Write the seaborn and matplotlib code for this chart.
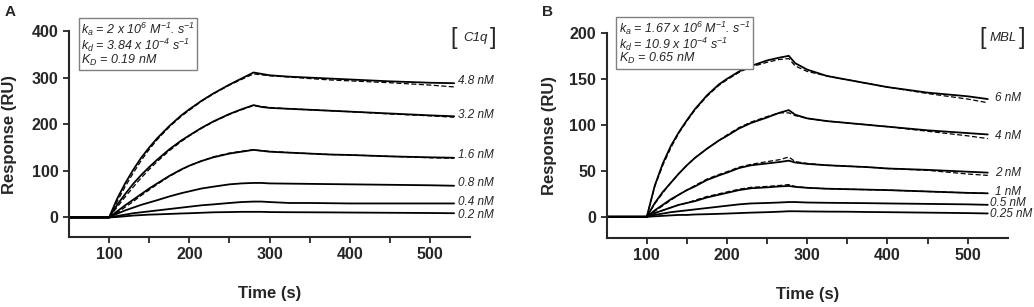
import numpy as np
import pandas as pd
import seaborn as sns
import matplotlib.pyplot as plt

sns.set_style("ticks")
plt.rcParams['font.family'] = ['Liberation Sans', 'DejaVu Sans']
plt.rcParams['mathtext.fontset'] = 'custom'
plt.rcParams['mathtext.rm'] = 'Liberation Sans:italic'
plt.rcParams['mathtext.it'] = 'Liberation Sans:italic'

# ---- panel A : C1q ----
t_a = [50, 100, 110, 120, 130, 140, 150, 160, 175, 190, 200, 215, 230, 250, 265, 280,
       290, 300, 325, 350, 375, 400, 450, 500, 530]
a_48 = [0, 0, 40, 73, 102, 128, 150, 170, 196, 219, 232, 250, 266, 285, 298, 311,
        308, 305, 302, 300, 298, 296, 292, 289, 288]
a_32 = [0, 0, 27, 50, 72, 91, 108, 124, 146, 165, 176, 192, 206, 222, 232, 241,
        237, 235, 233, 231, 229, 227, 223, 219, 217]
a_16 = [0, 0, 13, 26, 38, 50, 62, 73, 89, 103, 111, 121, 129, 137, 141, 145,
        143, 141, 139, 137, 135, 134, 131, 129, 128]
a_08 = [0, 0, 8, 15, 21, 27, 32, 37, 45, 52, 56, 62, 66, 71, 73, 74,
        74, 73, 72.5, 72, 71.5, 71, 70, 69, 68]
a_04 = [0, 0, 3, 6, 9, 11, 13, 15, 18, 21, 23, 26, 28, 31, 33, 34,
        34, 33, 31, 31, 30.5, 30, 30, 30, 30]
a_02 = [0, 0, 1, 2.5, 4, 5, 6, 6.5, 7.5, 8.5, 9, 10, 11, 11.5, 12, 12,
        12, 11.5, 11.2, 11, 10.8, 10.5, 10, 9.5, 9]
# fitted curves (dashed) where they part from the data
a_48_fit = [0, 0, 34, 66, 95, 122, 146, 167, 194, 217, 230, 249, 265, 284, 296, 308,
            306, 304, 301, 298, 295, 293, 289, 284, 280]
a_32_fit = [0, 0, 22, 44, 65, 85, 103, 120, 143, 163, 175, 191, 205, 221, 231, 240,
            238, 236, 233, 231, 229, 227, 222, 218, 215]
a_16_fit = [0, 0, 10, 22, 34, 47, 59, 71, 88, 102, 111, 121, 130, 138, 142, 145,
            143, 142, 139, 137, 135, 134, 131, 128, 127]
a_labels = ["4.8 nM", "3.2 nM", "1.6 nM", "0.8 nM", "0.4 nM", "0.2 nM"]
a_label_y = [293, 220, 134, 74, 34, 5]

# ---- panel B : MBL ----
t_b = [50, 100, 110, 120, 130, 140, 150, 160, 175, 190, 200, 215, 230, 250, 265, 277,
       285, 300, 325, 350, 375, 400, 450, 500, 525]
b_6 = [0, 0, 34, 58, 77, 92, 105, 117, 132, 144, 150, 158, 164, 170, 173, 175,
       167, 160, 153, 149, 145, 141, 135, 131, 128]
b_4 = [0, 0, 15, 27, 37, 47, 56, 64, 74, 83, 88, 96, 102, 108, 113, 116,
       111, 107, 104, 102, 100, 98, 94, 91, 89.5]
b_2 = [0, 0, 7, 13, 19, 24, 29, 33, 40, 45, 48, 53, 56, 58, 59.5, 61,
       59, 57.5, 56, 55, 54, 52.5, 51, 49, 48]
b_1 = [0, 0, 4, 7, 10, 13, 15, 17, 21, 24, 26, 29, 31, 32, 33, 33.5,
       32.5, 31.5, 30.5, 30, 29.5, 29, 27.5, 26, 25.5]
b_05 = [0, 0, 2, 3.5, 5, 6, 7, 8, 9.5, 11, 12, 13.5, 14.5, 15, 15.5, 16,
        16, 15.5, 15.2, 15, 14.8, 14.5, 14, 13.5, 13]
b_025 = [0, 0, 0.5, 1, 1.5, 2, 2, 2.5, 2.8, 3.2, 3.5, 4, 4.5, 5, 5.5, 6,
         6, 5.8, 5.6, 5.5, 5.2, 5, 4.5, 4, 3.6]
b_6_fit = [0, 0, 33, 56, 75, 91, 104, 116, 131, 143, 149, 157, 163, 168, 171, 172,
           164, 158, 153, 149, 145, 141, 134, 128, 124]
b_4_fit = [0, 0, 14, 26, 37, 47, 56, 64, 74, 83, 89, 97, 103, 109, 113, 113,
           110, 107, 104, 102, 100, 98, 93, 88, 85]
b_2_fit = [0, 0, 6, 12, 18, 24, 29, 34, 41, 46, 49, 54, 57, 60, 62, 65,
           60, 58, 56, 55, 54, 52.5, 50.5, 46.5, 45]
b_1_fit = [0, 0, 4, 7, 10, 13, 15, 18, 22, 25, 27, 30, 32, 33, 34, 35,
           33, 31.5, 30.5, 30, 29.5, 29, 27.5, 26, 25.5]
b_labels = ["6 nM", "4 nM", "2 nM", "1 nM", "0.5 nM", "0.25 nM"]
b_label_x = [534, 534, 534, 534, 528, 528]
b_label_y = [129, 88, 48, 27, 15, 2.5]

fig = plt.figure(figsize=(10.34, 3.07), dpi=100)
axA = fig.add_axes([0.0667, 0.228, 0.388, 0.671])
axB = fig.add_axes([0.5867, 0.225, 0.388, 0.668])


def draw(ax, t, data, fits):
    for vals in data:
        df = pd.DataFrame({"t": t, "r": vals})
        sns.lineplot(data=df, x="t", y="r", ax=ax, color="black", lw=1.3)
    for vals in fits:
        df = pd.DataFrame({"t": t[1:], "r": vals[1:]})
        sns.lineplot(data=df, x="t", y="r", ax=ax, color="black", lw=0.9,
                     linestyle=(0, (4, 2)))


def style(ax, ymin, ymax, ystep, lpad):
    ax.set_xlim(50, 550)
    ax.set_ylim(ymin, ymax)
    ax.set_xticks([100, 200, 300, 400, 500])
    ax.set_xticks([150, 250, 350, 450], minor=True)
    ax.set_yticks(np.arange(0, ymax + 1, ystep))
    sns.despine(ax=ax)
    for s in ["left", "bottom"]:
        ax.spines[s].set_linewidth(1.5)
    ax.tick_params(which="both", length=4, width=1.3, direction="out")
    for lab in ax.get_xticklabels() + ax.get_yticklabels():
        lab.set_fontweight("bold")
        lab.set_fontsize(11.5)
    ax.set_xlabel("Time (s)", fontsize=12, fontweight="bold", labelpad=17)
    ax.set_ylabel("Response (RU)", fontsize=12, fontweight="bold", labelpad=lpad)


draw(axA, t_a, [a_48, a_32, a_16, a_08, a_04, a_02], [a_48_fit, a_32_fit, a_16_fit])
draw(axB, t_b, [b_6, b_4, b_2, b_1, b_05, b_025], [b_6_fit, b_4_fit, b_2_fit, b_1_fit])
style(axA, -42, 400, 100, 11)
style(axB, -23, 200, 50, 9)

for lab, y in zip(a_labels, a_label_y):
    axA.text(535, y, lab, fontsize=8.5, style="italic", va="center", ha="left")
for lab, x, y in zip(b_labels, b_label_x, b_label_y):
    axB.text(x, y, lab, fontsize=8.5, style="italic", va="center", ha="left")

box = dict(boxstyle="square,pad=0.2", fc="white", ec="#808080", lw=1)
axA.text(0.03, 1.05,
         "$k_\\mathrm{a}$ = 2 x 10$^6$ M$^{-1}$. s$^{-1}$\n"
         "$k_\\mathrm{d}$ = 3.84 x 10$^{-4}$ s$^{-1}$\n"
         "$K_\\mathrm{D}$ = 0.19 nM",
         transform=axA.transAxes, fontsize=9, style="italic", va="top", ha="left",
         linespacing=0.88, bbox=box)
axB.text(0.03, 1.065,
         "$k_\\mathrm{a}$ = 1.67 x 10$^6$ M$^{-1}$. s$^{-1}$\n"
         "$k_\\mathrm{d}$ = 10.9 x 10$^{-4}$ s$^{-1}$\n"
         "$K_\\mathrm{D}$ = 0.65 nM",
         transform=axB.transAxes, fontsize=9, style="italic", va="top", ha="left",
         linespacing=0.88, bbox=box)

# bracketed protein names
for ax, name, xl, xc, xr, yc in [(axA, "C1q", 0.958, 1.012, 1.057, 0.966),
                                  (axB, "MBL", 0.938, 0.988, 1.036, 0.975)]:
    ax.text(xl, yc, "[", transform=ax.transAxes, fontsize=17, ha="center",
            va="center", fontweight="light", clip_on=False)
    ax.text(xr, yc, "]", transform=ax.transAxes, fontsize=17, ha="center",
            va="center", fontweight="light", clip_on=False)
    ax.text(xc, yc, name, transform=ax.transAxes, fontsize=9.5, style="italic",
            ha="center", va="center", clip_on=False)

fig.text(0.004, 0.96, "A", fontsize=11, fontweight="bold", va="center")
fig.text(0.524, 0.96, "B", fontsize=11, fontweight="bold", va="center")

fig.savefig("out.png", dpi=100)
